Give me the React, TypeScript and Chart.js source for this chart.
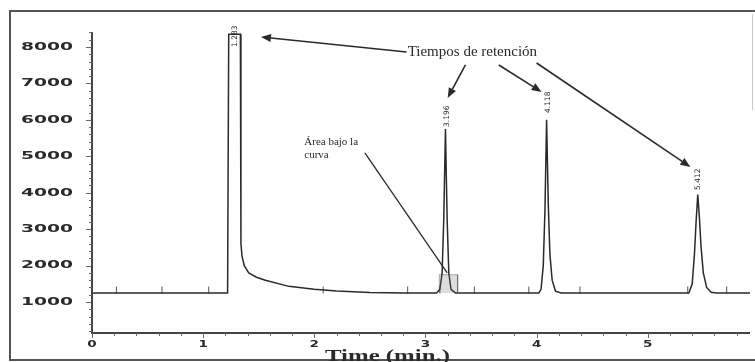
import React, { useEffect, useRef } from "react";
import { Chart, registerables } from "chart.js";

Chart.register(...registerables);

// ---- data ----
const timeMin = [
  0, 0.5, 1.0, 1.22, 1.23, 1.335, 1.34, 1.35, 1.37, 1.41, 1.48, 1.56, 1.77, 2.0, 2.2, 2.5, 2.8,
  3.1, 3.13, 3.15, 3.165, 3.18, 3.195, 3.21, 3.23, 3.27,
  3.6, 4.02, 4.04, 4.06, 4.075, 4.09, 4.105, 4.12, 4.14, 4.17, 4.22,
  4.8, 5.37, 5.4, 5.42, 5.435, 5.45, 5.465, 5.48, 5.5, 5.53, 5.57, 5.62, 5.92,
];
const signal = [
  1250, 1250, 1250, 1250, 8350, 8350, 2600, 2250, 2000, 1800, 1680, 1600, 1430, 1350, 1300, 1260, 1250,
  1250, 1350, 1800, 3300, 5750, 3300, 1800, 1350, 1250,
  1250, 1250, 1350, 2000, 3500, 6000, 3700, 2300, 1600, 1300, 1250,
  1250, 1250, 1500, 2300, 3200, 3950, 3300, 2500, 1800, 1400, 1270, 1250, 1250,
];
const shadeTime = [3.125, 3.125, 3.29, 3.29];
const shadeSignal = [1250, 1750, 1750, 1250];
const shadeBase = 1250;
const markerTime = [0.22, 0.63, 1.05, 2.08, 2.84, 3.13, 3.44, 3.93, 4.39, 5.36, 5.71];
const markerSignal = [1330, 1330, 1330, 1330, 1330, 1330, 1330, 1330, 1330, 1330, 1330];

const peakLabel = ["1.283", "3.196", "4.118", "5.412"];
const peakLabelTime = [1.286, 3.196, 4.107, 5.455];
const peakLabelBase = [7998, 5803, 6187, 4074];

const yTickLabels = [1000, 2000, 3000, 4000, 5000, 6000, 7000, 8000];
const xTickLabels = [0, 1, 2, 3, 4, 5];
const xTitle = "Time (min.)";

const retentionNote = "Tiempos de retención";
const retentionNoteAt = [2.84, 7860];
const retentionArrowFrom = [[2.83, 7860], [3.36, 7505], [3.66, 7505], [4.0, 7560]];
const retentionArrowTo = [[1.52, 8273], [3.2, 6600], [4.045, 6764], [5.384, 4705]];

const areaNoteLines = ["Área bajo la", "curva"];
const areaNoteAt = [1.91, 5390];
const areaLineFrom = [2.455, 5090];
const areaLineTo = [3.196, 1797];

const Y_MIN = 150;
const Y_MAX = 8410;
const X_MIN = 0;
const X_MAX = 5.92;

const ink = "#2a2a2a";

function arrow(ctx: CanvasRenderingContext2D, x1: number, y1: number, x2: number, y2: number) {
  const ang = Math.atan2(y2 - y1, x2 - x1);
  const head = 10;
  const wing = 4;
  const bx = x2 - head * Math.cos(ang);
  const by = y2 - head * Math.sin(ang);
  ctx.beginPath();
  ctx.moveTo(x1, y1);
  ctx.lineTo(bx, by);
  ctx.stroke();
  ctx.beginPath();
  ctx.moveTo(x2, y2);
  ctx.lineTo(bx - wing * Math.sin(ang), by + wing * Math.cos(ang));
  ctx.lineTo(bx + wing * Math.sin(ang), by - wing * Math.cos(ang));
  ctx.closePath();
  ctx.fill();
}

const overlay = {
  id: "overlay",
  beforeDraw(chart: any) {
    const ctx = chart.ctx as CanvasRenderingContext2D;
    ctx.save();
    ctx.fillStyle = "#ffffff";
    ctx.fillRect(0, 0, chart.width, chart.height);
    ctx.restore();
  },
  afterDraw(chart: any) {
    const ctx = chart.ctx as CanvasRenderingContext2D;
    const xs = chart.scales.x;
    const ys = chart.scales.y;
    const area = chart.chartArea;
    const px = (t: number) => xs.getPixelForValue(t);
    const py = (v: number) => ys.getPixelForValue(v);
    ctx.save();

    // outer scanned frame
    ctx.strokeStyle = "#555";
    ctx.lineWidth = 2;
    ctx.beginPath();
    ctx.moveTo(chart.width, 11);
    ctx.lineTo(10, 11);
    ctx.lineTo(10, 360);
    ctx.lineTo(chart.width, 360);
    ctx.stroke();
    ctx.strokeStyle = "#c8c8c8";
    ctx.lineWidth = 1;
    ctx.beginPath();
    ctx.moveTo(752.5, 14);
    ctx.lineTo(752.5, 110);
    ctx.stroke();

    // axes
    ctx.strokeStyle = "#444";
    ctx.lineWidth = 2;
    ctx.beginPath();
    ctx.moveTo(area.left, area.top);
    ctx.lineTo(area.left, area.bottom);
    ctx.lineTo(area.right, area.bottom);
    ctx.stroke();

    // y ticks
    ctx.lineWidth = 1;
    ctx.strokeStyle = "#666";
    for (let v = 200; v <= 8400; v += 200) {
      const y = Math.round(py(v)) + 0.5;
      const major = v % 1000 === 0;
      ctx.beginPath();
      ctx.moveTo(area.left - (major ? 6 : 3), y);
      ctx.lineTo(area.left, y);
      ctx.stroke();
    }
    // x ticks
    for (let t = 0.2; t <= X_MAX; t += 0.2) {
      const x = Math.round(px(t)) + 0.5;
      ctx.beginPath();
      ctx.moveTo(x, area.bottom);
      ctx.lineTo(x, area.bottom + 3);
      ctx.stroke();
    }
    xTickLabels.forEach((t) => {
      const x = Math.round(px(t)) + 0.5;
      ctx.beginPath();
      ctx.moveTo(x, area.bottom);
      ctx.lineTo(x, area.bottom + 5);
      ctx.stroke();
    });

    // y tick labels (wide, bold)
    ctx.fillStyle = ink;
    ctx.font = "bold 11px 'DejaVu Sans'";
    ctx.textAlign = "right";
    ctx.textBaseline = "middle";
    yTickLabels.forEach((v) => {
      ctx.save();
      ctx.translate(73, py(v));
      ctx.scale(1.7, 1);
      ctx.fillText(String(v), 0, 0);
      ctx.restore();
    });
    // x tick labels
    ctx.font = "bold 9px 'DejaVu Sans'";
    ctx.textAlign = "center";
    ctx.textBaseline = "top";
    xTickLabels.forEach((t) => {
      ctx.save();
      ctx.translate(px(t), 340);
      ctx.scale(1.5, 1);
      ctx.fillText(String(t), 0, 0);
      ctx.restore();
    });
    // x title
    ctx.font = "bold 16px 'Liberation Serif'";
    ctx.textAlign = "left";
    ctx.textBaseline = "top";
    ctx.save();
    ctx.translate(325, 349);
    ctx.scale(1.55, 1);
    ctx.fillText(xTitle, 0, 0);
    ctx.restore();

    // retention time labels (rotated)
    ctx.font = "7.5px 'DejaVu Sans'";
    ctx.textAlign = "left";
    ctx.textBaseline = "middle";
    peakLabel.forEach((s, i) => {
      ctx.save();
      ctx.translate(px(peakLabelTime[i]), py(peakLabelBase[i]));
      ctx.rotate(-Math.PI / 2);
      ctx.fillText(s, 0, 0);
      ctx.restore();
    });

    // annotations
    ctx.fillStyle = ink;
    ctx.font = "15px 'Liberation Serif'";
    ctx.textAlign = "left";
    ctx.textBaseline = "middle";
    ctx.fillText(retentionNote, px(retentionNoteAt[0]), py(retentionNoteAt[1]));
    ctx.strokeStyle = ink;
    ctx.lineWidth = 1.6;
    retentionArrowFrom.forEach((f, i) => {
      const to = retentionArrowTo[i];
      arrow(ctx, px(f[0]), py(f[1]), px(to[0]), py(to[1]));
    });

    ctx.font = "11px 'Liberation Serif'";
    ctx.textBaseline = "middle";
    areaNoteLines.forEach((s, i) => {
      ctx.fillText(s, px(areaNoteAt[0]), py(areaNoteAt[1]) + i * 13);
    });
    ctx.lineWidth = 1.3;
    ctx.beginPath();
    ctx.moveTo(px(areaLineFrom[0]), py(areaLineFrom[1]));
    ctx.lineTo(px(areaLineTo[0]), py(areaLineTo[1]));
    ctx.stroke();

    ctx.restore();
  },
};

export default function App() {
  const ref = useRef<HTMLCanvasElement | null>(null);
  useEffect(() => {
    if (!ref.current) return;
    const chart = new Chart(ref.current, {
      type: "line",
      data: {
        datasets: [
          {
            data: shadeTime.map((t, i) => ({ x: t, y: shadeSignal[i] })),
            borderColor: "rgba(60,60,60,0.5)",
            borderWidth: 0.8,
            backgroundColor: "rgba(120,120,120,0.25)",
            fill: { value: shadeBase },
            pointRadius: 0,
          },
          {
            data: timeMin.map((t, i) => ({ x: t, y: signal[i] })),
            borderColor: ink,
            borderWidth: 1.5,
            pointRadius: 0,
            tension: 0,
            fill: false,
          },
          {
            data: markerTime.map((t, i) => ({ x: t, y: markerSignal[i] })),
            showLine: false,
            pointStyle: "line",
            rotation: 90,
            pointRadius: 3.5,
            borderColor: "#555",
            borderWidth: 1,
          },
        ],
      },
      options: {
        responsive: false,
        animation: false,
        devicePixelRatio: 1,
        layout: { padding: { left: 92, top: 32, right: 0, bottom: 29 } },
        plugins: { legend: { display: false }, tooltip: { enabled: false } },
        scales: {
          x: { type: "linear", min: X_MIN, max: X_MAX, display: false },
          y: { type: "linear", min: Y_MIN, max: Y_MAX, display: false },
        },
      },
      plugins: [overlay],
    });
    return () => chart.destroy();
  }, []);
  return (
    <div style={{ position: "absolute", left: 0, top: 0, width: 755, height: 362, background: "#fff" }}>
      <canvas ref={ref} width={755} height={362} style={{ display: "block" }} />
    </div>
  );
}
